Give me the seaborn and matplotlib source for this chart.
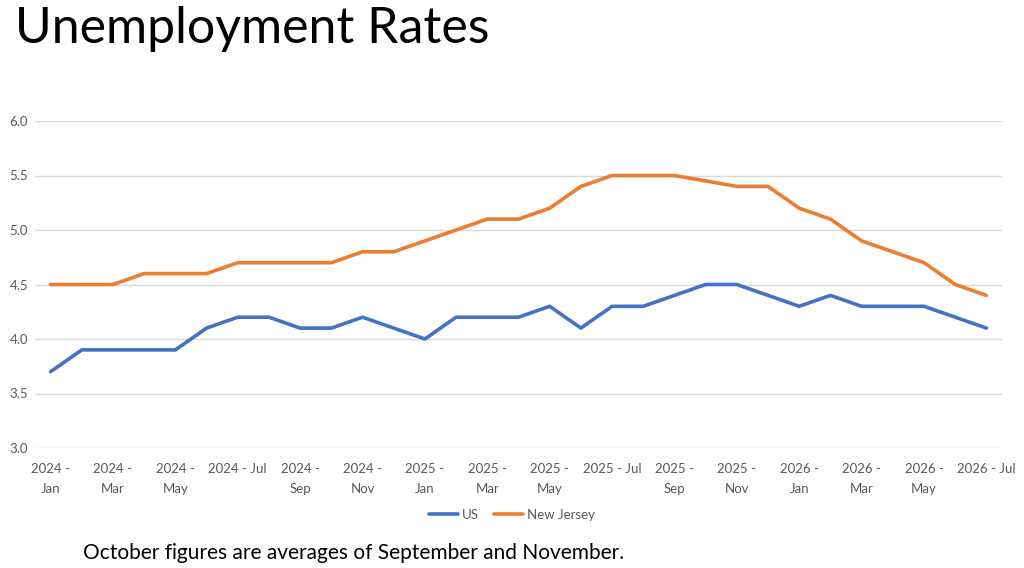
import pandas as pd
import seaborn as sns
import matplotlib.pyplot as plt
from matplotlib.lines import Line2D

# monthly data, 2024 Jan .. 2026 Jul
months = ["Jan", "Feb", "Mar", "Apr", "May", "Jun",
          "Jul", "Aug", "Sep", "Oct", "Nov", "Dec"]
years = [2024, 2025, 2026]
periods = [f"{y} - {m}" for y in years for m in months][:31]

us = [3.7, 3.9, 3.9, 3.9, 3.9, 4.1, 4.2, 4.2, 4.1, 4.1, 4.2, 4.1,
      4.0, 4.2, 4.2, 4.2, 4.3, 4.1, 4.3, 4.3, 4.4, 4.5, 4.5, 4.4,
      4.3, 4.4, 4.3, 4.3, 4.3, 4.2, 4.1]
nj = [4.5, 4.5, 4.5, 4.6, 4.6, 4.6, 4.7, 4.7, 4.7, 4.7, 4.8, 4.8,
      4.9, 5.0, 5.1, 5.1, 5.2, 5.4, 5.5, 5.5, 5.5, 5.45, 5.4, 5.4,
      5.2, 5.1, 4.9, 4.8, 4.7, 4.5, 4.4]

series_names = ["US", "New Jersey"]
colors = ["#4472C4", "#ED7D31"]

df = pd.DataFrame({
    "idx": list(range(len(periods))) * 2,
    "rate": us + nj,
    "series": ["US"] * len(us) + ["New Jersey"] * len(nj),
})

sns.set_style("white")
plt.rcParams["font.family"] = ["Lato", "DejaVu Sans"]

fig = plt.figure(figsize=(10.24, 5.68), dpi=100)
ax = fig.add_axes([35 / 1024, 1 - 448 / 568, 967 / 1024, 327 / 568])

sns.lineplot(data=df, x="idx", y="rate", hue="series", hue_order=series_names,
             palette=colors, linewidth=2.6, ax=ax, legend=False)

ax.set_xlim(-0.5, len(periods) - 0.5)
ax.set_ylim(3.0, 6.0)
ax.set_yticks([3.0, 3.5, 4.0, 4.5, 5.0, 5.5, 6.0])
ax.set_yticklabels([f"{v:.1f}" for v in ax.get_yticks()])
ax.yaxis.grid(True, color="#D9D9D9", linewidth=1)
ax.set_axisbelow(True)

tick_pos = list(range(0, len(periods), 2))
tick_labels = []
for i in tick_pos:
    y, m = periods[i].split(" - ")
    tick_labels.append(periods[i] if m == "Jul" else f"{y} -\n{m}")
ax.set_xticks(tick_pos)
ax.set_xticklabels(tick_labels, linespacing=1.75)
ax.tick_params(axis="both", colors="#595959", labelsize=9.5, length=0)
ax.tick_params(axis="x", pad=11)
ax.tick_params(axis="y", pad=5)

for s in ax.spines.values():
    s.set_visible(False)
ax.set_xlabel("")
ax.set_ylabel("")

handles = [Line2D([0], [0], color=c, linewidth=2.6) for c in colors]
fig.legend(handles, series_names, loc="center", bbox_to_anchor=(512 / 1024, 1 - 515 / 568),
           ncol=2, frameon=False, fontsize=9.5, handlelength=2.2, handletextpad=0.3,
           columnspacing=1.2, labelcolor="#595959")

fig.text(15 / 1024, 1 - 43 / 568, "Unemployment Rates", fontsize=36,
         va="baseline", ha="left", color="black")
fig.text(83 / 1024, 1 - 553 / 568, "October figures are averages of September and November.",
         fontsize=15, va="center", ha="left", color="black")

fig.savefig("out.png", dpi=100)
